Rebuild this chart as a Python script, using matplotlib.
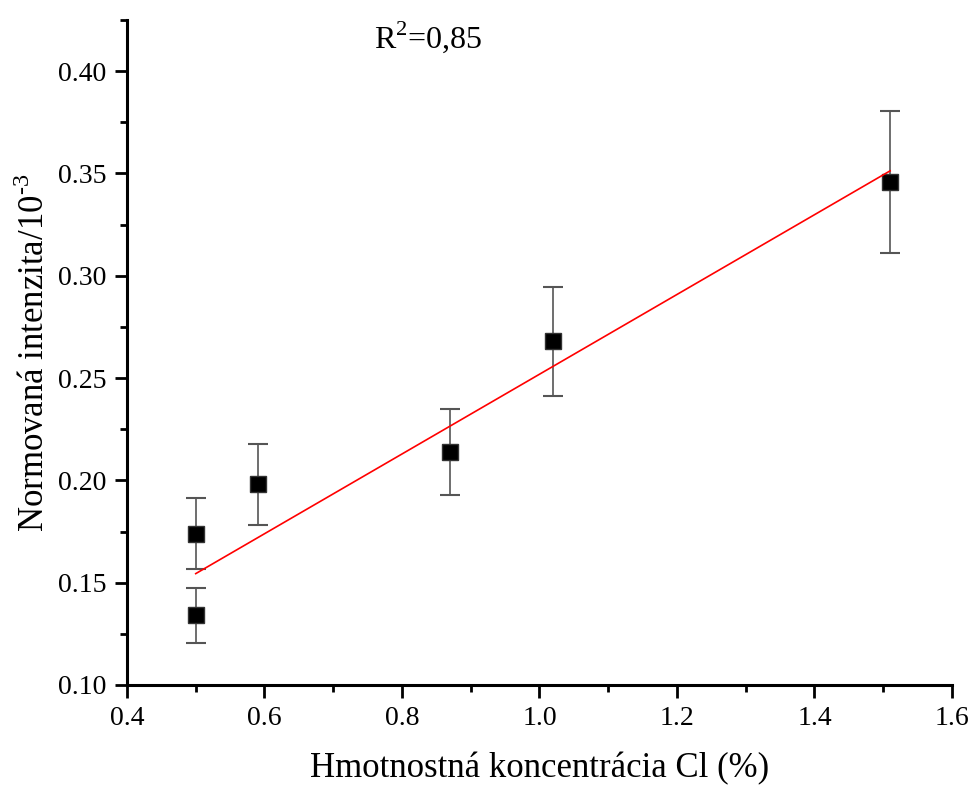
import matplotlib
matplotlib.use("Agg")
import matplotlib.pyplot as plt
import numpy as np
from matplotlib.ticker import MultipleLocator

plt.rcParams['font.family'] = ['Liberation Serif', 'DejaVu Serif']
plt.rcParams['mathtext.fontset'] = 'custom'
plt.rcParams['mathtext.rm'] = 'Liberation Serif'

# data
conc = [0.50, 0.50, 0.59, 0.87, 1.02, 1.51]
intensity = [0.174, 0.134, 0.198, 0.214, 0.268, 0.346]
err = [0.0174, 0.0133, 0.0198, 0.0210, 0.0266, 0.0347]

yticks = [0.10, 0.15, 0.20, 0.25, 0.30, 0.35, 0.40]
xticks = [0.4, 0.6, 0.8, 1.0, 1.2, 1.4, 1.6]

fig = plt.figure(figsize=(9.73, 7.85), dpi=100)
ax = fig.add_axes([0.1305, 0.1274, 0.8479, 0.8471])

# error bars (grey stems, black caps)
eb = ax.errorbar(conc, intensity, yerr=err, fmt='none', ecolor='#555555',
                 elinewidth=1.2, capsize=7, capthick=1.5, zorder=2)
for cap in eb[1]:
    cap.set_color('black')
ax.plot(conc, intensity, ls='none', marker='s', ms=11, color='black',
        mec='#333333', zorder=3)

# linear fit (weighted)
x = np.array(conc)
y = np.array(intensity)
p = np.polyfit(x, y, 1, w=1 / np.array(err))
xf = np.array([x.min(), x.max()])
ax.plot(xf, np.polyval(p, xf), color='red', lw=1.2, zorder=4)

ax.text(0.76, 0.4167, r'R$^{2}$=0,85', fontsize=23, ha='left', va='center')

ax.set_xlim(0.4, 1.6)
ax.set_ylim(0.10, 0.425)
ax.set_yticks(yticks)
ax.set_yticklabels(['%.2f' % v for v in yticks])
ax.set_xticks(xticks)
ax.set_xticklabels(['%.1f' % v for v in xticks])
ax.xaxis.set_minor_locator(MultipleLocator(0.1))
ax.yaxis.set_minor_locator(MultipleLocator(0.025))

for s in ['top', 'right']:
    ax.spines[s].set_visible(False)
for s in ['left', 'bottom']:
    ax.spines[s].set_linewidth(2.2)

ax.tick_params(which='major', direction='out', length=9, width=2, labelsize=20, pad=6)
ax.tick_params(which='minor', direction='out', length=5, width=2)

ax.set_xlabel('Hmotnostná koncentrácia Cl (%)', fontsize=25, labelpad=15)
ax.set_ylabel('Normovaná intenzita/10$^{\u2010 3}$', fontsize=25, labelpad=4)

fig.savefig('out.png', dpi=100)
